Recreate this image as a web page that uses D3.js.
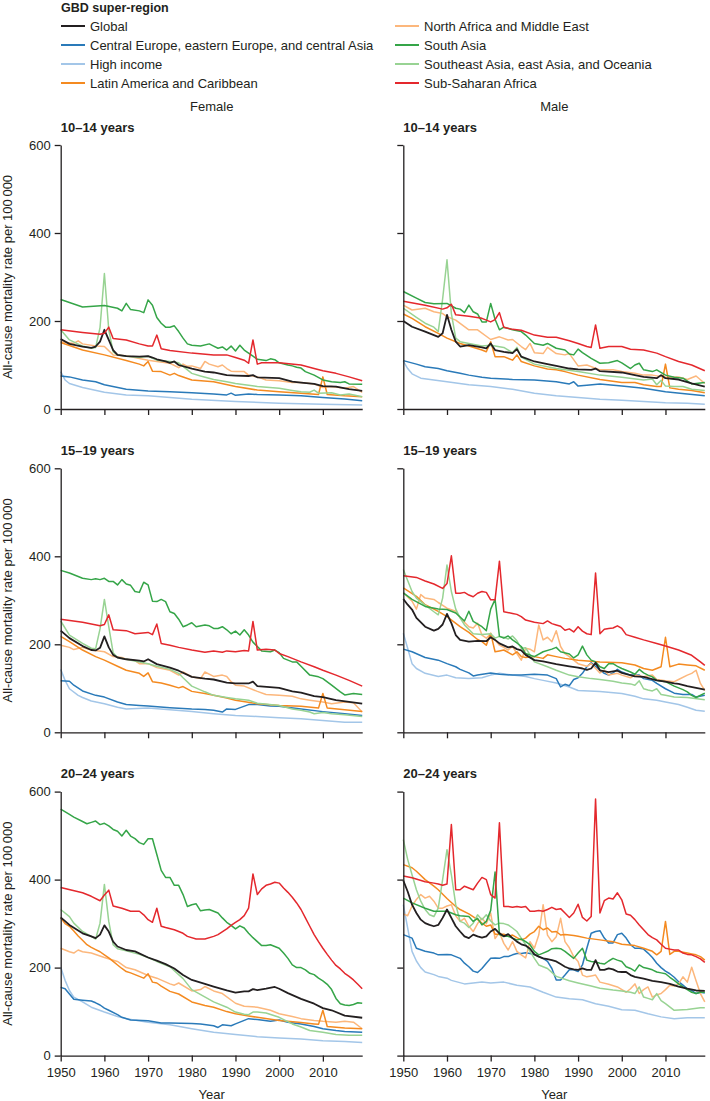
<!DOCTYPE html>
<html>
<head>
<meta charset="utf-8">
<script src="https://cdn.jsdelivr.net/npm/d3@7"></script>
<style>
  html, body { margin: 0; padding: 0; background: #fff; }
  svg { display: block; font-family: "Liberation Sans", Arial, sans-serif; }
</style>
</head>
<body>
<svg id="chart" width="710" height="1101"></svg>
<script>
// ---------------- DATA ----------------
const regionNames = ["Global", "Central Europe, eastern Europe, and central Asia", "High income",
  "Latin America and Caribbean", "North Africa and Middle East", "South Asia",
  "Southeast Asia, east Asia, and Oceania", "Sub-Saharan Africa"];
const regionKeys = ["glob", "ceeca", "hi", "lac", "name", "sa", "sea", "ssa"];
const regionColors = ["#231f20", "#2a7ab9", "#a3c6e8", "#f48a20", "#fcb77c", "#35a548", "#98d393", "#e4282d"];
const ageGroups = ["10–14 years", "15–19 years", "20–24 years"];
const sexes = ["Female", "Male"];
const yTicks = [0, 200, 400, 600];
const xTicks = [1950, 1960, 1970, 1980, 1990, 2000, 2010];

// Each series: flat list of year, value pairs (deaths per 100 000)
// Female 10–14
const f10_glob = [1950,159, 1952,148, 1955,142, 1957,139, 1958,142, 1959,153, 1960,180, 1961,157, 1962,134, 1963,123, 1965,120, 1968,119, 1970,120, 1971,117, 1972,113, 1974,108, 1975,105, 1976,108, 1977,100, 1980,92, 1983,85, 1985,83, 1988,77, 1990,76, 1993,75, 1994,77, 1995,72, 2000,70, 2003,62, 2005,60, 2008,57, 2010,52, 2013,51, 2016,45, 2019,41];
const f10_ceeca = [1950,75, 1952,73, 1955,66, 1958,62, 1960,55, 1965,45, 1970,41, 1975,39, 1980,37, 1985,34, 1988,32, 1989,36, 1990,31, 1993,34, 1995,33, 2000,32, 2005,30, 2010,26, 2015,23, 2019,19];
const f10_hi = [1950,85, 1951,66, 1952,58, 1955,49, 1960,38, 1965,32, 1970,30, 1980,22, 1990,17, 2000,13, 2010,11, 2019,9];
const f10_lac = [1950,151, 1955,134, 1960,123, 1965,110, 1968,102, 1969,98, 1970,108, 1971,86, 1973,85, 1975,77, 1976,81, 1977,76, 1980,66, 1985,62, 1990,51, 1995,43, 2000,39, 2005,36, 2009,33, 2010,73, 2011,33, 2015,30, 2019,28];
const f10_name = [1950,153, 1953,149, 1954,155, 1955,148, 1958,143, 1960,142, 1962,123, 1965,121, 1968,115, 1970,111, 1972,108, 1975,104, 1977,94, 1978,102, 1979,97, 1980,98, 1982,92, 1983,108, 1984,102, 1986,96, 1987,100, 1988,92, 1989,86, 1990,85, 1992,85, 1993,77, 1995,73, 1997,66, 2000,64, 2003,60, 2005,60, 2008,57, 2010,49, 2012,51, 2015,47, 2017,51, 2019,38];
const f10_sa = [1950,249, 1955,232, 1960,235, 1963,229, 1964,223, 1965,240, 1966,226, 1968,223, 1969,219, 1970,248, 1971,236, 1972,208, 1973,195, 1974,186, 1975,186, 1976,189, 1977,176, 1978,161, 1979,148, 1980,145, 1982,143, 1984,148, 1985,143, 1986,138, 1987,141, 1988,134, 1989,143, 1990,132, 1991,145, 1992,134, 1993,127, 1994,120, 1995,113, 1997,110, 1998,114, 1999,112, 2000,105, 2002,100, 2003,98, 2004,95, 2005,93, 2006,85, 2008,77, 2010,66, 2012,62, 2014,60, 2015,62, 2016,57, 2019,56];
const f10_sea = [1950,180, 1952,157, 1955,143, 1957,138, 1958,140, 1959,185, 1960,308, 1961,180, 1962,130, 1963,123, 1965,120, 1968,117, 1970,120, 1972,111, 1975,108, 1977,105, 1980,81, 1982,75, 1985,67, 1988,62, 1990,58, 1993,54, 1995,51, 2000,47, 2003,42, 2005,39, 2007,38, 2008,43, 2009,36, 2012,37, 2014,32, 2016,34, 2019,28];
const f10_ssa = [1950,180, 1955,174, 1959,170, 1960,172, 1961,186, 1962,160, 1965,157, 1968,148, 1970,143, 1971,143, 1972,168, 1973,137, 1975,133, 1980,127, 1985,123, 1988,123, 1990,117, 1992,111, 1993,104, 1994,157, 1995,102, 1996,105, 2000,105, 2005,100, 2008,92, 2010,87, 2013,81, 2016,73, 2019,64];

// Male 10–14
const m10_glob = [1950,200, 1952,187, 1955,176, 1957,168, 1958,164, 1959,172, 1960,214, 1961,180, 1962,153, 1963,142, 1965,145, 1968,140, 1969,138, 1970,149, 1971,134, 1973,130, 1975,127, 1976,136, 1977,119, 1980,108, 1983,102, 1985,98, 1988,92, 1990,90, 1993,89, 1994,92, 1995,86, 2000,83, 2003,77, 2005,73, 2008,70, 2009,77, 2010,70, 2013,67, 2016,58, 2019,51];
const m10_ceeca = [1950,110, 1953,102, 1955,96, 1958,92, 1960,87, 1963,81, 1965,77, 1968,72, 1970,70, 1975,67, 1980,66, 1985,62, 1988,57, 1989,62, 1990,52, 1992,54, 1995,57, 2000,52, 2005,47, 2010,39, 2015,34, 2019,30];
const m10_hi = [1950,109, 1951,92, 1952,80, 1954,70, 1957,66, 1960,62, 1965,55, 1970,51, 1975,45, 1980,36, 1985,30, 1990,26, 1995,22, 2000,20, 2005,17, 2010,14, 2015,13, 2019,11];
const m10_lac = [1950,216, 1952,206, 1955,187, 1958,172, 1960,161, 1963,149, 1965,143, 1968,134, 1969,130, 1970,153, 1971,119, 1973,119, 1975,111, 1976,123, 1977,108, 1980,98, 1983,91, 1985,89, 1987,85, 1990,77, 1995,67, 2000,60, 2003,60, 2005,55, 2008,51, 2009,51, 2010,102, 2011,48, 2013,45, 2016,42, 2019,37];
const m10_name = [1950,236, 1952,225, 1955,229, 1957,221, 1959,217, 1960,210, 1962,202, 1965,180, 1967,180, 1970,158, 1972,164, 1974,157, 1975,158, 1977,142, 1978,135, 1979,149, 1980,128, 1982,126, 1983,140, 1985,126, 1987,123, 1988,126, 1990,98, 1992,100, 1995,89, 1998,89, 2000,85, 2003,81, 2005,77, 2007,77, 2010,72, 2013,73, 2015,67, 2017,75, 2019,58];
const m10_sa = [1950,267, 1953,252, 1955,242, 1957,239, 1960,240, 1962,229, 1963,227, 1964,219, 1965,236, 1966,221, 1967,216, 1968,198, 1969,198, 1970,240, 1971,204, 1972,180, 1973,186, 1975,180, 1977,176, 1978,168, 1980,149, 1982,145, 1983,149, 1985,138, 1987,134, 1988,125, 1989,123, 1990,136, 1991,128, 1993,115, 1995,104, 1997,105, 1999,110, 2000,105, 2002,92, 2003,100, 2004,104, 2005,89, 2007,85, 2008,89, 2010,77, 2012,72, 2014,70, 2016,57, 2019,60];
const m10_sea = [1950,229, 1953,208, 1955,195, 1957,186, 1958,176, 1959,250, 1960,339, 1961,217, 1962,161, 1963,153, 1965,149, 1968,143, 1970,145, 1973,140, 1975,128, 1976,140, 1977,118, 1980,102, 1985,92, 1990,85, 1995,77, 2000,72, 2005,66, 2007,68, 2008,55, 2009,65, 2010,52, 2012,51, 2014,51, 2016,45, 2019,42];
const m10_ssa = [1950,245, 1955,236, 1959,227, 1960,230, 1961,238, 1962,214, 1965,211, 1968,206, 1970,198, 1971,203, 1972,219, 1973,186, 1975,181, 1977,179, 1980,168, 1983,163, 1985,163, 1988,155, 1990,149, 1992,142, 1993,140, 1994,191, 1995,138, 1997,142, 2000,142, 2002,136, 2005,134, 2008,127, 2010,119, 2013,108, 2016,100, 2019,87];

// Female 15–19
const f15_glob = [1950,231, 1952,214, 1955,196, 1957,187, 1958,186, 1959,192, 1960,218, 1961,193, 1962,176, 1963,170, 1965,166, 1968,163, 1969,161, 1970,166, 1972,155, 1975,147, 1977,140, 1980,126, 1983,122, 1985,120, 1988,113, 1990,111, 1993,111, 1994,115, 1995,105, 2000,101, 2003,93, 2005,90, 2008,82, 2010,80, 2013,73, 2016,69, 2019,65];
const f15_ceeca = [1950,117, 1952,116, 1953,107, 1955,94, 1958,84, 1960,80, 1963,69, 1965,63, 1968,61, 1970,60, 1975,56, 1980,53, 1983,52, 1985,50, 1987,46, 1988,53, 1990,52, 1993,63, 1995,63, 1998,60, 2000,59, 2005,53, 2010,47, 2015,42, 2019,38];
const f15_hi = [1950,143, 1951,118, 1952,99, 1954,84, 1955,79, 1957,71, 1960,65, 1963,57, 1965,53, 1970,55, 1975,51, 1980,47, 1985,42, 1990,38, 1995,36, 2000,33, 2005,31, 2010,27, 2015,23, 2019,23];
const f15_lac = [1950,218, 1952,206, 1955,187, 1958,172, 1960,164, 1963,150, 1965,141, 1968,134, 1969,127, 1970,135, 1971,115, 1973,112, 1975,107, 1977,101, 1978,104, 1980,93, 1983,88, 1985,84, 1988,78, 1990,73, 1995,65, 2000,61, 2005,59, 2009,55, 2010,88, 2011,55, 2015,51, 2019,47];
const f15_name = [1950,198, 1952,193, 1953,188, 1955,193, 1957,187, 1960,183, 1962,172, 1964,170, 1965,166, 1967,163, 1968,156, 1970,156, 1972,147, 1975,141, 1977,130, 1978,137, 1980,126, 1982,122, 1983,137, 1985,127, 1987,130, 1988,127, 1989,115, 1990,107, 1992,105, 1995,93, 1997,86, 2000,84, 2003,82, 2005,76, 2007,73, 2010,69, 2012,65, 2015,69, 2017,67, 2019,46];
const f15_sa = [1950,368, 1952,362, 1955,350, 1957,347, 1958,349, 1959,347, 1960,350, 1961,343, 1962,343, 1963,335, 1964,347, 1965,337, 1966,334, 1967,320, 1968,318, 1969,341, 1970,335, 1971,298, 1972,297, 1973,302, 1974,297, 1975,274, 1976,270, 1977,257, 1978,240, 1979,244, 1980,249, 1981,240, 1983,244, 1984,242, 1985,236, 1986,236, 1987,240, 1988,233, 1989,224, 1990,230, 1991,221, 1992,233, 1993,221, 1994,205, 1995,195, 1996,185, 1998,183, 1999,187, 2000,181, 2001,168, 2003,160, 2004,160, 2005,150, 2007,130, 2009,126, 2010,122, 2012,107, 2014,92, 2015,85, 2017,88, 2019,86];
const f15_sea = [1950,253, 1952,221, 1955,202, 1957,191, 1958,190, 1959,235, 1960,302, 1961,240, 1962,181, 1963,170, 1965,166, 1968,160, 1970,156, 1972,150, 1975,143, 1977,134, 1978,124, 1980,105, 1983,92, 1985,84, 1988,79, 1990,76, 1993,73, 1995,66, 2000,61, 2003,53, 2005,50, 2007,46, 2008,42, 2010,45, 2012,42, 2015,40, 2019,36];
const f15_ssa = [1950,257, 1955,250, 1959,242, 1960,245, 1961,267, 1962,233, 1965,231, 1967,224, 1970,227, 1971,222, 1972,246, 1973,202, 1975,198, 1977,193, 1980,187, 1983,182, 1985,185, 1987,182, 1988,185, 1990,183, 1992,186, 1993,185, 1994,252, 1995,187, 1997,189, 1999,187, 2000,179, 2002,172, 2005,160, 2008,149, 2010,141, 2013,130, 2016,118, 2019,105];

// Male 15–19
const m15_glob = [1950,303, 1951,290, 1952,279, 1953,260, 1955,240, 1957,231, 1958,235, 1959,245, 1960,269, 1961,248, 1962,221, 1963,210, 1965,206, 1967,208, 1969,207, 1970,216, 1971,210, 1972,202, 1974,193, 1975,195, 1976,189, 1977,186, 1978,176, 1980,164, 1982,161, 1985,155, 1988,150, 1990,147, 1991,145, 1992,142, 1993,145, 1994,158, 1995,141, 1997,137, 1999,140, 2000,135, 2003,127, 2005,126, 2008,118, 2010,115, 2012,111, 2013,110, 2015,105, 2019,97];
const m15_ceeca = [1950,189, 1952,183, 1955,170, 1958,164, 1960,156, 1962,149, 1963,143, 1965,135, 1966,128, 1967,130, 1970,135, 1972,132, 1975,130, 1977,130, 1980,132, 1983,130, 1985,122, 1986,103, 1987,109, 1988,106, 1989,120, 1990,124, 1991,134, 1992,149, 1993,158, 1994,150, 1995,141, 1996,134, 1997,130, 1998,135, 1999,143, 2000,137, 2002,130, 2004,130, 2005,122, 2007,118, 2008,111, 2010,99, 2012,89, 2014,86, 2016,86, 2017,80, 2019,84];
const m15_hi = [1950,225, 1951,191, 1952,156, 1953,145, 1955,134, 1958,127, 1960,130, 1962,124, 1965,122, 1968,124, 1970,130, 1972,134, 1975,130, 1978,127, 1980,122, 1982,118, 1985,112, 1988,103, 1990,95, 1995,93, 2000,88, 2003,82, 2005,76, 2008,73, 2010,69, 2013,63, 2015,57, 2017,50, 2019,48];
const m15_lac = [1950,328, 1953,309, 1955,290, 1958,275, 1960,263, 1963,240, 1965,227, 1967,211, 1968,206, 1969,198, 1970,225, 1971,183, 1972,185, 1973,187, 1975,176, 1976,183, 1977,172, 1978,170, 1980,172, 1982,168, 1983,176, 1985,172, 1987,168, 1990,164, 1995,160, 2000,158, 2003,153, 2005,145, 2007,141, 2008,145, 2009,149, 2010,216, 2011,149, 2013,155, 2015,153, 2017,151, 2019,141];
const m15_name = [1950,317, 1952,298, 1953,280, 1954,313, 1955,305, 1957,302, 1958,295, 1960,282, 1962,275, 1963,260, 1965,240, 1966,237, 1967,248, 1968,221, 1969,214, 1970,224, 1971,210, 1972,198, 1973,193, 1974,187, 1975,195, 1976,179, 1977,164, 1978,191, 1979,189, 1980,183, 1981,244, 1982,210, 1983,216, 1984,206, 1985,231, 1986,195, 1987,179, 1988,172, 1989,164, 1990,156, 1992,150, 1993,156, 1995,135, 1996,141, 1997,130, 1999,134, 2000,130, 2002,124, 2003,130, 2005,126, 2007,130, 2008,120, 2010,117, 2012,115, 2013,120, 2015,130, 2016,134, 2017,141, 2018,111, 2019,95];
const m15_sa = [1950,317, 1952,302, 1955,286, 1958,280, 1960,279, 1962,271, 1964,253, 1965,275, 1966,252, 1968,240, 1969,231, 1970,280, 1971,302, 1972,218, 1973,214, 1974,219, 1975,210, 1976,203, 1977,195, 1978,179, 1980,172, 1982,183, 1984,189, 1985,193, 1986,183, 1988,178, 1989,169, 1990,176, 1991,196, 1992,176, 1993,164, 1994,160, 1995,149, 1996,145, 1997,156, 1998,156, 1999,150, 2000,145, 2002,137, 2003,132, 2004,143, 2005,135, 2006,130, 2007,126, 2008,118, 2010,115, 2012,105, 2014,97, 2015,92, 2016,84, 2017,79, 2019,89];
const m15_sea = [1950,370, 1951,345, 1952,320, 1953,305, 1955,289, 1957,274, 1958,267, 1959,305, 1960,380, 1961,320, 1962,280, 1963,260, 1964,244, 1966,224, 1968,222, 1970,224, 1971,214, 1972,218, 1973,216, 1974,212, 1975,219, 1976,208, 1977,191, 1978,192, 1980,160, 1983,149, 1985,141, 1988,130, 1990,126, 1993,122, 1995,120, 1998,116, 2000,112, 2002,110, 2003,107, 2004,117, 2005,99, 2006,96, 2007,94, 2008,99, 2009,86, 2010,84, 2012,80, 2015,79, 2019,74];
const m15_ssa = [1950,356, 1953,352, 1955,344, 1957,337, 1959,327, 1960,338, 1961,401, 1962,316, 1963,316, 1964,318, 1965,312, 1966,308, 1967,316, 1968,320, 1969,318, 1970,301, 1971,301, 1972,389, 1973,274, 1975,270, 1976,268, 1977,263, 1978,255, 1980,250, 1982,247, 1983,253, 1984,247, 1985,244, 1986,241, 1987,232, 1988,235, 1989,228, 1990,240, 1991,230, 1992,224, 1993,222, 1994,362, 1995,224, 1996,234, 1997,236, 1998,237, 1999,242, 2000,236, 2001,222, 2003,216, 2005,210, 2008,202, 2010,196, 2013,187, 2016,175, 2018,160, 2019,152];

// Female 20–24
const f20_glob = [1950,314, 1952,297, 1955,278, 1957,271, 1958,267, 1959,275, 1960,296, 1961,282, 1962,259, 1963,248, 1965,240, 1967,237, 1970,223, 1972,216, 1974,208, 1976,198, 1978,183, 1980,172, 1983,163, 1985,157, 1988,148, 1990,143, 1992,146, 1993,146, 1994,151, 1995,149, 1997,152, 1999,156, 2000,152, 2002,142, 2005,129, 2008,118, 2010,108, 2012,103, 2015,91, 2019,86];
const f20_ceeca = [1950,155, 1951,152, 1952,140, 1953,128, 1955,126, 1957,124, 1958,120, 1959,115, 1960,108, 1961,103, 1963,93, 1964,87, 1966,81, 1970,79, 1973,74, 1975,74, 1980,73, 1982,72, 1985,68, 1986,64, 1987,70, 1989,68, 1990,72, 1992,80, 1993,84, 1995,82, 1998,78, 2000,81, 2002,76, 2005,72, 2008,66, 2010,61, 2013,57, 2015,55, 2019,53];
const f20_hi = [1950,201, 1951,171, 1952,148, 1953,133, 1955,122, 1957,110, 1960,99, 1963,89, 1965,84, 1970,76, 1975,70, 1980,61, 1985,53, 1990,48, 1995,43, 2000,40, 2005,38, 2010,34, 2015,32, 2019,30];
const f20_lac = [1950,313, 1951,300, 1952,294, 1953,283, 1954,272, 1955,262, 1956,252, 1957,246, 1958,241, 1959,236, 1960,229, 1961,222, 1962,214, 1963,206, 1964,198, 1965,191, 1966,188, 1967,184, 1968,180, 1969,176, 1970,186, 1971,167, 1972,165, 1973,158, 1975,146, 1977,140, 1980,122, 1983,114, 1985,110, 1988,100, 1990,95, 1993,90, 1995,87, 2000,80, 2005,75, 2008,72, 2009,71, 2010,103, 2011,66, 2015,63, 2019,61];
const f20_name = [1950,244, 1952,236, 1953,233, 1954,240, 1955,236, 1957,233, 1960,223, 1963,214, 1965,200, 1967,195, 1970,182, 1972,176, 1975,163, 1976,160, 1977,165, 1980,147, 1982,150, 1983,157, 1985,147, 1987,141, 1990,119, 1992,112, 1995,110, 1998,103, 2000,95, 2003,89, 2005,84, 2008,80, 2010,78, 2013,76, 2015,78, 2017,76, 2019,61];
const f20_sa = [1950,560, 1952,548, 1953,542, 1955,532, 1956,527, 1957,530, 1958,533, 1959,525, 1960,528, 1961,522, 1962,514, 1963,510, 1964,499, 1965,512, 1966,499, 1967,493, 1968,484, 1969,480, 1970,493, 1971,493, 1972,457, 1973,421, 1974,405, 1975,405, 1976,387, 1977,387, 1978,366, 1979,339, 1980,343, 1981,345, 1982,329, 1983,331, 1984,332, 1985,328, 1986,324, 1987,313, 1988,303, 1989,296, 1990,288, 1991,295, 1992,290, 1993,278, 1994,268, 1995,259, 1996,250, 1997,250, 1998,252, 1999,248, 2000,244, 2001,233, 2002,221, 2003,206, 2004,200, 2005,200, 2006,195, 2007,187, 2008,184, 2009,176, 2010,170, 2011,162, 2012,150, 2013,130, 2014,118, 2015,115, 2016,114, 2017,116, 2018,120, 2019,119];
const f20_sea = [1950,332, 1952,316, 1953,301, 1955,282, 1957,271, 1958,265, 1959,301, 1960,389, 1961,305, 1962,252, 1963,243, 1965,238, 1968,230, 1970,223, 1972,214, 1975,202, 1978,175, 1980,150, 1985,122, 1988,110, 1990,99, 1992,94, 1993,93, 1994,99, 1995,99, 1997,97, 2000,87, 2003,72, 2005,65, 2007,57, 2010,53, 2013,48, 2016,46, 2019,46];
const f20_ssa = [1950,382, 1955,370, 1957,362, 1959,352, 1960,365, 1961,376, 1962,340, 1964,335, 1966,328, 1968,328, 1969,320, 1970,309, 1971,303, 1972,335, 1973,294, 1974,291, 1976,286, 1978,278, 1979,271, 1981,265, 1983,265, 1985,271, 1986,275, 1988,288, 1989,296, 1990,303, 1991,309, 1992,318, 1993,335, 1994,413, 1995,366, 1996,379, 1997,387, 1998,390, 1999,394, 2000,392, 2001,381, 2002,371, 2003,360, 2004,347, 2005,332, 2006,313, 2007,294, 2008,275, 2009,259, 2010,244, 2011,230, 2012,217, 2013,205, 2014,197, 2015,187, 2016,180, 2017,172, 2018,162, 2019,152];

// Male 20–24
const m20_glob = [1950,398, 1951,373, 1952,343, 1953,324, 1954,309, 1955,301, 1956,297, 1957,294, 1958,297, 1959,313, 1960,332, 1961,313, 1962,294, 1963,282, 1964,271, 1965,267, 1966,275, 1967,271, 1968,268, 1969,271, 1970,282, 1971,288, 1972,278, 1973,271, 1974,276, 1975,267, 1976,259, 1977,253, 1978,250, 1979,243, 1980,230, 1981,225, 1982,221, 1983,219, 1984,217, 1985,214, 1986,208, 1987,202, 1988,198, 1989,196, 1990,195, 1991,198, 1992,195, 1993,195, 1994,217, 1995,195, 1996,195, 1997,198, 1998,196, 1999,191, 2000,190, 2001,190, 2002,183, 2003,179, 2005,175, 2007,170, 2009,167, 2011,163, 2013,157, 2015,152, 2017,148, 2019,147];
const m20_ceeca = [1950,275, 1952,267, 1953,244, 1955,237, 1957,233, 1958,229, 1960,230, 1961,229, 1962,225, 1963,221, 1964,210, 1965,202, 1966,192, 1967,189, 1968,198, 1969,210, 1970,221, 1971,222, 1972,221, 1973,225, 1974,225, 1975,229, 1976,232, 1977,232, 1978,234, 1979,232, 1980,230, 1981,225, 1982,221, 1983,214, 1984,198, 1985,172, 1986,172, 1987,183, 1988,195, 1989,195, 1990,191, 1991,206, 1992,244, 1993,278, 1994,282, 1995,284, 1996,267, 1997,256, 1998,256, 1999,275, 2000,278, 2001,267, 2002,252, 2003,244, 2004,244, 2005,242, 2006,233, 2007,223, 2008,210, 2009,200, 2010,192, 2011,186, 2012,178, 2013,168, 2014,160, 2015,152, 2016,148, 2017,141, 2018,144, 2019,142];
const m20_hi = [1950,343, 1951,290, 1952,237, 1953,215, 1954,200, 1955,190, 1957,184, 1958,180, 1960,176, 1961,171, 1964,163, 1966,165, 1968,167, 1970,165, 1973,167, 1976,160, 1979,156, 1982,144, 1985,133, 1988,129, 1991,127, 1994,118, 1997,112, 2000,104, 2003,103, 2006,95, 2009,88, 2012,84, 2015,86, 2019,86];
const m20_lac = [1950,434, 1952,427, 1953,419, 1955,400, 1957,385, 1958,377, 1960,357, 1962,339, 1963,332, 1965,322, 1967,309, 1968,301, 1969,294, 1970,297, 1971,276, 1972,276, 1973,276, 1974,271, 1975,274, 1976,268, 1977,263, 1978,267, 1979,276, 1980,282, 1981,294, 1982,286, 1983,290, 1984,281, 1985,282, 1986,274, 1987,275, 1988,274, 1989,273, 1990,271, 1992,267, 1995,263, 1998,259, 2000,253, 2003,250, 2005,244, 2007,237, 2008,229, 2009,237, 2010,305, 2011,230, 2012,237, 2013,237, 2014,235, 2015,233, 2016,231, 2017,229, 2018,225, 2019,217];
const m20_name = [1950,322, 1951,318, 1952,340, 1953,355, 1954,366, 1955,358, 1956,362, 1957,351, 1958,335, 1959,335, 1960,340, 1961,343, 1962,318, 1963,305, 1964,312, 1965,294, 1966,282, 1967,300, 1968,312, 1969,300, 1970,324, 1971,266, 1972,280, 1973,255, 1974,240, 1975,259, 1976,237, 1977,229, 1978,222, 1979,259, 1980,244, 1981,274, 1982,343, 1983,274, 1984,259, 1985,270, 1986,312, 1987,259, 1988,245, 1989,225, 1990,214, 1991,183, 1992,179, 1993,181, 1994,183, 1995,167, 1997,162, 1999,156, 2001,144, 2002,152, 2003,163, 2004,141, 2005,150, 2006,156, 2007,133, 2008,138, 2009,141, 2010,150, 2011,160, 2012,158, 2013,163, 2014,179, 2015,167, 2016,201, 2017,170, 2018,141, 2019,122];
const m20_sa = [1950,358, 1952,347, 1955,335, 1957,328, 1960,328, 1962,320, 1963,318, 1965,316, 1966,305, 1967,312, 1968,297, 1969,305, 1970,330, 1971,417, 1972,275, 1973,271, 1974,271, 1975,267, 1976,263, 1977,265, 1978,259, 1979,252, 1980,237, 1981,229, 1982,233, 1983,237, 1984,243, 1985,244, 1986,243, 1987,237, 1988,229, 1989,221, 1990,233, 1991,244, 1992,217, 1993,214, 1994,213, 1995,210, 1996,208, 1997,215, 1998,221, 1999,217, 2000,214, 2001,202, 2002,198, 2003,192, 2004,206, 2005,200, 2006,198, 2007,195, 2008,190, 2009,188, 2010,186, 2011,178, 2012,171, 2013,163, 2014,156, 2015,150, 2016,144, 2017,141, 2018,144, 2019,144];
const m20_sea = [1950,491, 1951,446, 1952,411, 1953,377, 1954,351, 1955,332, 1956,320, 1957,316, 1958,335, 1959,400, 1960,468, 1961,411, 1962,343, 1963,305, 1964,301, 1965,291, 1966,301, 1967,320, 1968,309, 1969,320, 1970,306, 1971,297, 1972,301, 1973,300, 1974,297, 1975,290, 1976,282, 1977,267, 1978,252, 1979,237, 1980,221, 1981,206, 1982,202, 1983,198, 1985,180, 1988,170, 1990,165, 1993,158, 1995,153, 1998,149, 2000,147, 2002,144, 2003,141, 2004,156, 2005,133, 2006,130, 2007,127, 2008,141, 2009,125, 2010,118, 2012,103, 2015,105, 2018,109, 2019,109];
const m20_ssa = [1950,408, 1952,404, 1955,395, 1957,392, 1958,390, 1959,387, 1960,390, 1961,525, 1962,377, 1963,377, 1964,385, 1965,381, 1966,377, 1967,392, 1968,405, 1969,400, 1970,366, 1971,358, 1972,529, 1973,339, 1974,339, 1975,337, 1976,339, 1977,337, 1978,339, 1979,328, 1980,328, 1981,330, 1982,328, 1983,332, 1984,337, 1985,332, 1986,334, 1987,324, 1988,314, 1989,324, 1990,344, 1991,314, 1992,306, 1993,316, 1994,583, 1995,324, 1996,352, 1997,358, 1998,356, 1999,370, 2000,354, 2001,322, 2002,319, 2003,309, 2004,297, 2005,286, 2006,275, 2007,268, 2008,263, 2009,253, 2010,244, 2011,242, 2012,240, 2013,240, 2014,233, 2015,230, 2016,229, 2017,225, 2018,220, 2019,212];

// ---------------- BUILD TABLE ----------------
const raw = {
  f10: {glob: f10_glob, ceeca: f10_ceeca, hi: f10_hi, lac: f10_lac, name: f10_name, sa: f10_sa, sea: f10_sea, ssa: f10_ssa},
  m10: {glob: m10_glob, ceeca: m10_ceeca, hi: m10_hi, lac: m10_lac, name: m10_name, sa: m10_sa, sea: m10_sea, ssa: m10_ssa},
  f15: {glob: f15_glob, ceeca: f15_ceeca, hi: f15_hi, lac: f15_lac, name: f15_name, sa: f15_sa, sea: f15_sea, ssa: f15_ssa},
  m15: {glob: m15_glob, ceeca: m15_ceeca, hi: m15_hi, lac: m15_lac, name: m15_name, sa: m15_sa, sea: m15_sea, ssa: m15_ssa},
  f20: {glob: f20_glob, ceeca: f20_ceeca, hi: f20_hi, lac: f20_lac, name: f20_name, sa: f20_sa, sea: f20_sea, ssa: f20_ssa},
  m20: {glob: m20_glob, ceeca: m20_ceeca, hi: m20_hi, lac: m20_lac, name: m20_name, sa: m20_sa, sea: m20_sea, ssa: m20_ssa}
};
const panelKeys = [["f10", "m10"], ["f15", "m15"], ["f20", "m20"]];
function toPoints(flat) {
  const out = [];
  for (let i = 0; i < flat.length; i += 2) out.push({year: flat[i], value: flat[i + 1]});
  return out;
}

// ---------------- LAYOUT ----------------
const svg = d3.select("#chart");
const colX0 = [60.7, 403.3];
const plotW = 301.5;
const rowY0 = [409, 732.3, 1055.6];
const plotH = 264;
const FS = 13;
const textColor = "#231f20";

// Legend
const legend = svg.append("g");
legend.append("text").attr("x", 61).attr("y", 12).attr("font-size", 12.5).attr("font-weight", "bold")
  .attr("fill", textColor).text("GBD super-region");
const legCols = [[0, 1, 2, 3], [4, 5, 6, 7]];
const legX = [61, 395];
const legY = [26, 45, 64, 83];
legCols.forEach((col, ci) => {
  col.forEach((ri, k) => {
    const g = legend.append("g").attr("transform", `translate(${legX[ci]},${legY[k]})`);
    g.append("line").attr("x1", 0).attr("x2", 24).attr("y1", 0).attr("y2", 0)
      .attr("stroke", regionColors[ri]).attr("stroke-width", 2);
    g.append("text").attr("x", 29).attr("y", 4.6).attr("font-size", FS).attr("fill", textColor)
      .text(regionNames[ri]);
  });
});

// Column headers
sexes.forEach((s, ci) => {
  svg.append("text").attr("x", colX0[ci] + 151).attr("y", 110.5).attr("text-anchor", "middle")
    .attr("font-size", FS).attr("fill", textColor).text(s);
});

const drawOrder = ["hi", "ceeca", "name", "lac", "sea", "sa", "glob", "ssa"];

for (let r = 0; r < 3; r++) {
  for (let c = 0; c < 2; c++) {
    const x = d3.scaleLinear().domain([1950, 2019]).range([colX0[c], colX0[c] + plotW]);
    const y = d3.scaleLinear().domain([0, 600]).range([rowY0[r], rowY0[r] - plotH]);
    const g = svg.append("g");

    // panel title
    g.append("text").attr("x", colX0[c]).attr("y", rowY0[r] - plotH - 13.5)
      .attr("font-size", FS).attr("font-weight", "bold").attr("fill", textColor).text(ageGroups[r]);

    // lines
    const line = d3.line().x(d => x(d.year)).y(d => y(d.value));
    drawOrder.forEach(k => {
      const idx = regionKeys.indexOf(k);
      g.append("path").datum(toPoints(raw[panelKeys[r][c]][k]))
        .attr("fill", "none").attr("stroke", regionColors[idx])
        .attr("stroke-width", k === "glob" ? 1.8 : 1.5)
        .attr("stroke-linejoin", "round")
        .attr("d", line);
    });

    // y axis
    const ya = d3.axisLeft(y).tickValues(yTicks).tickSize(6).tickSizeOuter(0).tickPadding(4);
    if (c === 1) ya.tickFormat("");
    const yg = g.append("g").attr("transform", `translate(${colX0[c]},0)`).call(ya);

    // x axis
    const xa = d3.axisBottom(x).tickValues(xTicks).tickSize(6).tickSizeOuter(0).tickPadding(6)
      .tickFormat(d3.format("d"));
    if (r < 2) xa.tickFormat("");
    const xg = g.append("g").attr("transform", `translate(0,${rowY0[r]})`).call(xa);

    [yg, xg].forEach(ax => {
      ax.select(".domain").attr("stroke", textColor).attr("stroke-width", 1.3);
      ax.selectAll(".tick line").attr("stroke", textColor).attr("stroke-width", 1.3);
      ax.selectAll(".tick text").attr("font-size", FS).attr("fill", textColor)
        .attr("font-family", "Liberation Sans, Arial, sans-serif");
    });

    // y title (left column only)
    if (c === 0) {
      g.append("text").attr("transform", `translate(12,${rowY0[r] - plotH / 2}) rotate(-90)`)
        .attr("text-anchor", "middle").attr("font-size", FS).attr("fill", textColor)
        .text("All-cause mortality rate per 100\u2009000");
    }
    // x title (bottom row)
    if (r === 2) {
      g.append("text").attr("x", colX0[c] + 151).attr("y", 1099).attr("text-anchor", "middle")
        .attr("font-size", FS).attr("fill", textColor).text("Year");
    }
  }
}
</script>
</body>
</html>
